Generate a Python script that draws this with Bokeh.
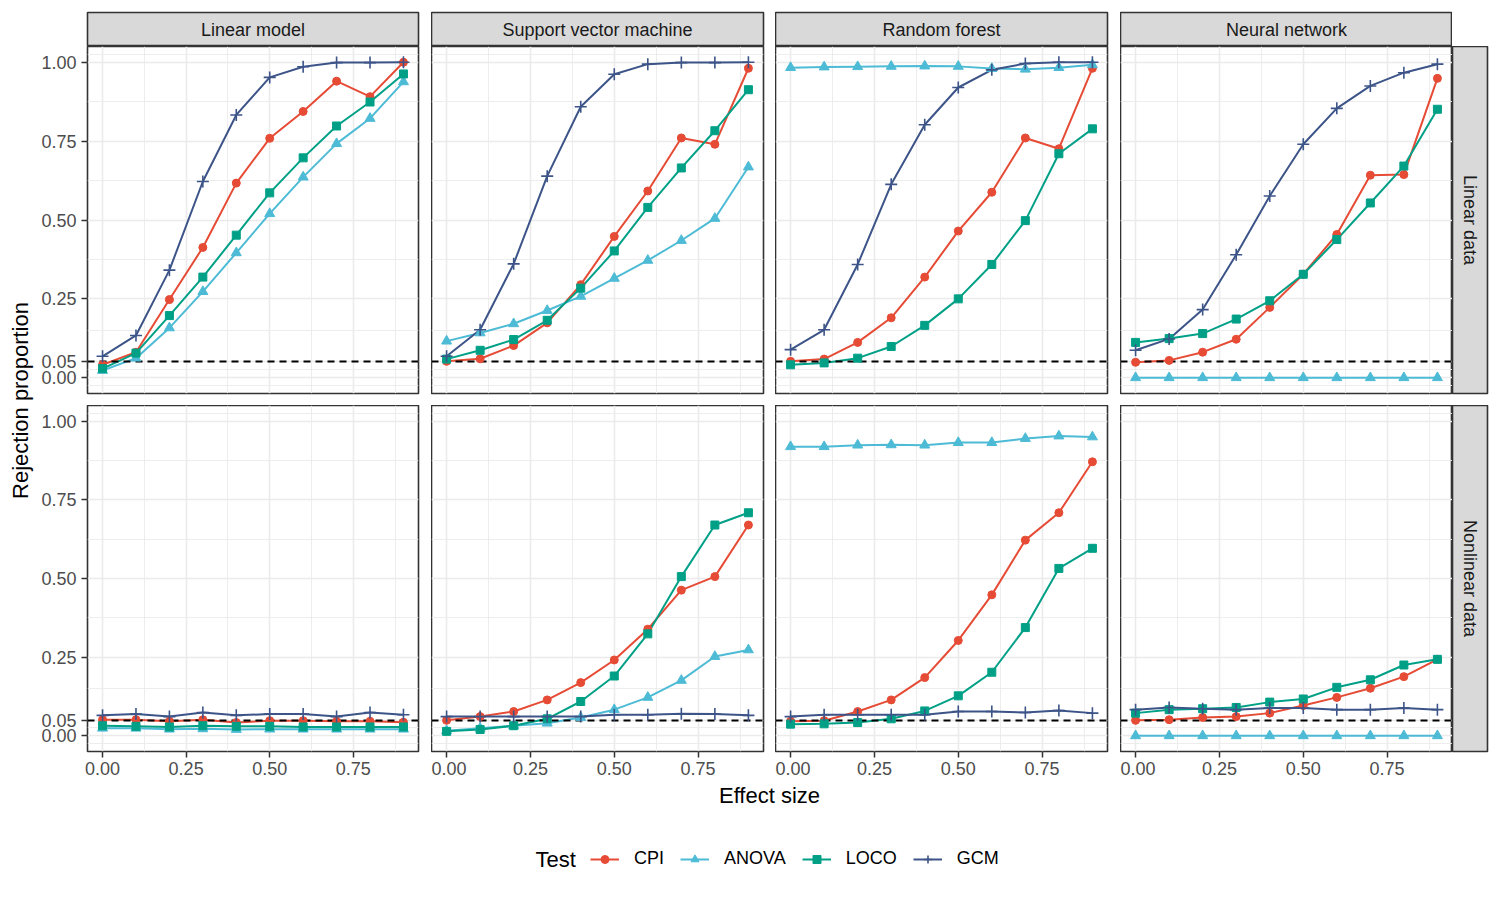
import math

from bokeh.plotting import figure
from bokeh.layouts import row, column
from bokeh.models import (Range1d, FixedTicker, LinearAxis, PrintfTickFormatter,
                          Legend, LegendItem, Label, AllLabels)
from bokeh.embed import file_html
from bokeh.resources import INLINE

# ---------------------------------------------------------------- data
effect_size = [0.0, 0.1, 0.2, 0.3, 0.4, 0.5, 0.6, 0.7, 0.8, 0.9]
learners = ["Linear model", "Support vector machine", "Random forest", "Neural network"]
settings = ["Linear data", "Nonlinear data"]
tests = ["CPI", "ANOVA", "LOCO", "GCM"]

# rejection proportions, linear data
lin_lm = dict(
    CPI=[0.041, 0.081, 0.248, 0.413, 0.617, 0.759, 0.844, 0.940, 0.891, 1.000],
    ANOVA=[0.023, 0.062, 0.158, 0.273, 0.396, 0.520, 0.636, 0.742, 0.822, 0.938],
    LOCO=[0.029, 0.078, 0.197, 0.319, 0.452, 0.586, 0.697, 0.798, 0.874, 0.963],
    GCM=[0.068, 0.134, 0.341, 0.622, 0.833, 0.952, 0.986, 0.999, 0.999, 1.000],
)
lin_svm = dict(
    CPI=[0.052, 0.060, 0.102, 0.174, 0.295, 0.448, 0.592, 0.760, 0.740, 0.981],
    ANOVA=[0.116, 0.142, 0.171, 0.213, 0.258, 0.315, 0.372, 0.435, 0.505, 0.668],
    LOCO=[0.059, 0.087, 0.121, 0.182, 0.284, 0.402, 0.540, 0.665, 0.783, 0.913],
    GCM=[0.068, 0.152, 0.361, 0.639, 0.859, 0.962, 0.994, 0.999, 0.999, 1.000],
)
lin_rf = dict(
    CPI=[0.052, 0.059, 0.112, 0.190, 0.319, 0.465, 0.588, 0.760, 0.726, 0.981],
    ANOVA=[0.983, 0.985, 0.986, 0.987, 0.988, 0.987, 0.980, 0.978, 0.983, 0.992],
    LOCO=[0.041, 0.047, 0.062, 0.099, 0.166, 0.250, 0.359, 0.498, 0.710, 0.789],
    GCM=[0.089, 0.152, 0.359, 0.613, 0.802, 0.920, 0.976, 0.996, 1.000, 1.000],
)
lin_nn = dict(
    CPI=[0.049, 0.055, 0.081, 0.122, 0.223, 0.328, 0.454, 0.642, 0.644, 0.949],
    ANOVA=[0.000, 0.000, 0.000, 0.000, 0.000, 0.000, 0.000, 0.000, 0.000, 0.000],
    LOCO=[0.112, 0.124, 0.140, 0.186, 0.244, 0.328, 0.438, 0.554, 0.671, 0.851],
    GCM=[0.087, 0.123, 0.216, 0.390, 0.576, 0.740, 0.854, 0.925, 0.967, 0.994],
)

# rejection proportions, nonlinear data
nl_lm = dict(
    CPI=[0.051, 0.051, 0.046, 0.051, 0.042, 0.048, 0.048, 0.046, 0.046, 0.043],
    ANOVA=[0.024, 0.024, 0.021, 0.022, 0.020, 0.021, 0.021, 0.021, 0.021, 0.021],
    LOCO=[0.032, 0.030, 0.028, 0.032, 0.030, 0.030, 0.028, 0.028, 0.028, 0.028],
    GCM=[0.065, 0.069, 0.061, 0.074, 0.065, 0.069, 0.069, 0.061, 0.074, 0.067],
)
nl_svm = dict(
    CPI=[0.049, 0.061, 0.077, 0.114, 0.169, 0.241, 0.339, 0.463, 0.506, 0.670],
    ANOVA=[0.016, 0.024, 0.032, 0.040, 0.058, 0.083, 0.122, 0.176, 0.252, 0.273],
    LOCO=[0.014, 0.020, 0.032, 0.054, 0.109, 0.190, 0.324, 0.506, 0.670, 0.709],
    GCM=[0.061, 0.061, 0.061, 0.061, 0.061, 0.067, 0.067, 0.070, 0.069, 0.065],
)
nl_rf = dict(
    CPI=[0.046, 0.048, 0.077, 0.114, 0.185, 0.303, 0.448, 0.622, 0.709, 0.871],
    ANOVA=[0.919, 0.919, 0.924, 0.925, 0.924, 0.932, 0.932, 0.945, 0.953, 0.950],
    LOCO=[0.037, 0.038, 0.042, 0.054, 0.079, 0.127, 0.202, 0.344, 0.532, 0.596],
    GCM=[0.061, 0.067, 0.067, 0.067, 0.067, 0.077, 0.077, 0.074, 0.080, 0.072],
)
nl_nn = dict(
    CPI=[0.049, 0.051, 0.058, 0.061, 0.072, 0.096, 0.122, 0.151, 0.188, 0.243],
    ANOVA=[0.000, 0.000, 0.000, 0.000, 0.000, 0.000, 0.000, 0.000, 0.000, 0.000],
    LOCO=[0.072, 0.083, 0.086, 0.090, 0.107, 0.117, 0.154, 0.178, 0.225, 0.243],
    GCM=[0.083, 0.090, 0.086, 0.083, 0.088, 0.088, 0.083, 0.083, 0.088, 0.083],
)

nominal_level = 0.05

panels = [[lin_lm, lin_svm, lin_rf, lin_nn],
          [nl_lm, nl_svm, nl_rf, nl_nn]]

x_ticks = [0.0, 0.25, 0.5, 0.75]
x_minor = [-0.125, 0.125, 0.375, 0.625, 0.875]
y_ticks = [0.0, 0.05, 0.25, 0.5, 0.75, 1.0]
y_minor = [-0.025, 0.025, 0.15, 0.375, 0.625, 0.875, 1.025]

# ---------------------------------------------------------------- style
FONT = "Liberation Sans"
colors = dict(CPI="#E64B35", ANOVA="#4DBBD5", LOCO="#00A087", GCM="#3C5488")
markers = dict(CPI="circle", ANOVA="triangle", LOCO="square", GCM="cross")
msizes = dict(CPI=8, ANOVA=10, LOCO=8, GCM=12)

FRAME_W = 332
GAP_R = [13, 12, 13, 0]
LEFT0 = 48
YLAB_W = 38
STRIP_H = 34
TOP_PAD = 12
ROW_H = [347, 346]
ROW_B = [12, 32]
RSTRIP_W = 35
RIGHT_PAD = 13
BOTTOM_H = 117


def base_fig(width, height, left=0, right=0, top=0, bottom=0, xr=(0, 1), yr=(0, 1)):
    p = figure(width=width, height=height, toolbar_location=None, output_backend="svg",
               x_axis_location=None, y_axis_location=None,
               x_range=Range1d(*xr), y_range=Range1d(*yr),
               min_border_left=left, min_border_right=right,
               min_border_top=top, min_border_bottom=bottom)
    p.background_fill_color = "white"
    p.border_fill_color = "white"
    p.outline_line_color = None
    p.xgrid.visible = False
    p.ygrid.visible = False
    return p


def strip_fig(width, height, text, left=0, right=0, top=0, bottom=0, vertical=False):
    p = base_fig(width, height, left, right, top, bottom)
    p.background_fill_color = "#D9D9D9"
    p.outline_line_color = "#333333"
    p.outline_line_width = 1.6
    p.add_layout(Label(x=0.5, y=0.5, text=text, text_align="center",
                       text_baseline="middle", text_font=FONT,
                       text_font_size="18px", text_color="#1A1A1A",
                       angle=-math.pi / 2 if vertical else 0))
    return p


def panel_fig(r, c):
    left = LEFT0 if c == 0 else 0
    width = left + FRAME_W + GAP_R[c]
    height = ROW_H[r] + ROW_B[r]
    p = figure(width=width, height=height, toolbar_location=None, output_backend="svg",
               x_axis_location=None, y_axis_location=None,
               x_range=Range1d(-0.045, 0.945), y_range=Range1d(-0.05, 1.05),
               min_border_left=left, min_border_right=GAP_R[c],
               min_border_top=0, min_border_bottom=ROW_B[r])
    p.background_fill_color = "white"
    p.border_fill_color = "white"
    p.outline_line_color = "#333333"
    p.outline_line_width = 1.6

    p.xgrid.ticker = FixedTicker(ticks=x_ticks, minor_ticks=x_minor)
    p.ygrid.ticker = FixedTicker(ticks=y_ticks, minor_ticks=y_minor)
    for g in (p.xgrid, p.ygrid):
        g.grid_line_color = "#EBEBEB"
        g.grid_line_width = 1.6
        g.minor_grid_line_color = "#EBEBEB"
        g.minor_grid_line_width = 0.9

    axis_style = dict(major_tick_out=6, major_tick_in=0, minor_tick_line_color=None,
                      axis_line_color=None, major_tick_line_color="#333333",
                      major_tick_line_width=1.5, major_label_text_font=FONT,
                      major_label_text_font_size="18px",
                      major_label_text_color="#4D4D4D",
                      major_label_policy=AllLabels(),
                      formatter=PrintfTickFormatter(format="%.2f"))
    if c == 0:
        p.add_layout(LinearAxis(ticker=FixedTicker(ticks=y_ticks),
                                major_label_standoff=5, **axis_style), "left")
    if r == 1:
        p.add_layout(LinearAxis(ticker=FixedTicker(ticks=x_ticks),
                                major_label_standoff=4, **axis_style), "below")

    data = panels[r][c]
    for t in tests:
        p.line(effect_size, data[t], line_color=colors[t], line_width=2)
    p.hspan(y=[nominal_level], line_color="black", line_width=2, line_dash="7 5")
    for t in tests:
        p.scatter(effect_size, data[t], marker=markers[t], size=msizes[t],
                  fill_color=colors[t], line_color=colors[t],
                  line_width=1.6 if t == "GCM" else 1)
    return p


# ---------------------------------------------------------------- layout
columns = []
for c, name in enumerate(learners):
    left = LEFT0 if c == 0 else 0
    strip = strip_fig(left + FRAME_W + GAP_R[c], TOP_PAD + STRIP_H, name,
                      left=left, right=GAP_R[c], top=TOP_PAD)
    columns.append(column(strip, panel_fig(0, c), panel_fig(1, c)))

right_col = column(
    base_fig(RSTRIP_W + RIGHT_PAD, TOP_PAD + STRIP_H, right=RIGHT_PAD),
    strip_fig(RSTRIP_W + RIGHT_PAD, ROW_H[0] + ROW_B[0], settings[0],
              right=RIGHT_PAD, bottom=ROW_B[0], vertical=True),
    strip_fig(RSTRIP_W + RIGHT_PAD, ROW_H[1] + ROW_B[1], settings[1],
              right=RIGHT_PAD, bottom=ROW_B[1], vertical=True),
)

grid_h = TOP_PAD + STRIP_H + sum(ROW_H) + sum(ROW_B)
ylab = base_fig(YLAB_W, grid_h, xr=(0, YLAB_W), yr=(0, grid_h))
ylab.add_layout(Label(x=20, y=grid_h - 400, text="Rejection proportion",
                      text_align="center", text_baseline="middle", angle=math.pi / 2,
                      text_font=FONT, text_font_size="22px", text_color="black"))

bottom = base_fig(1500, BOTTOM_H, xr=(0, 1500), yr=(0, BOTTOM_H))
bottom.add_layout(Label(x=769, y=BOTTOM_H - 12, text="Effect size", text_align="center",
                        text_baseline="middle", text_font=FONT, text_font_size="22px",
                        text_color="black"))
bottom.add_layout(Label(x=535, y=BOTTOM_H - 76, text="Test", text_align="left",
                        text_baseline="middle", text_font=FONT, text_font_size="22px",
                        text_color="black"))

# legend key renderers: one undrawn (NaN) row each, so the legend has a glyph to show
nan = float("nan")
items = []
for t in tests:
    ln = bottom.line([nan], [nan], line_color=colors[t], line_width=2)
    sc = bottom.scatter([nan], [nan], marker=markers[t], size=msizes[t],
                        fill_color=colors[t], line_color=colors[t],
                        line_width=1.6 if t == "GCM" else 1)
    items.append(LegendItem(label=t, renderers=[ln, sc], index=0))
legend = Legend(items=items, orientation="horizontal", location=(590, BOTTOM_H - 76 - 10),
                padding=0, margin=0, spacing=16, glyph_width=29, glyph_height=20,
                label_standoff=15, label_text_font=FONT, label_text_font_size="18px",
                label_text_color="black", border_line_color=None,
                background_fill_alpha=0)
bottom.add_layout(legend, "center")

page = column(row(ylab, *columns, right_col), bottom)

open("out.html", "w").write(file_html(page, INLINE))
